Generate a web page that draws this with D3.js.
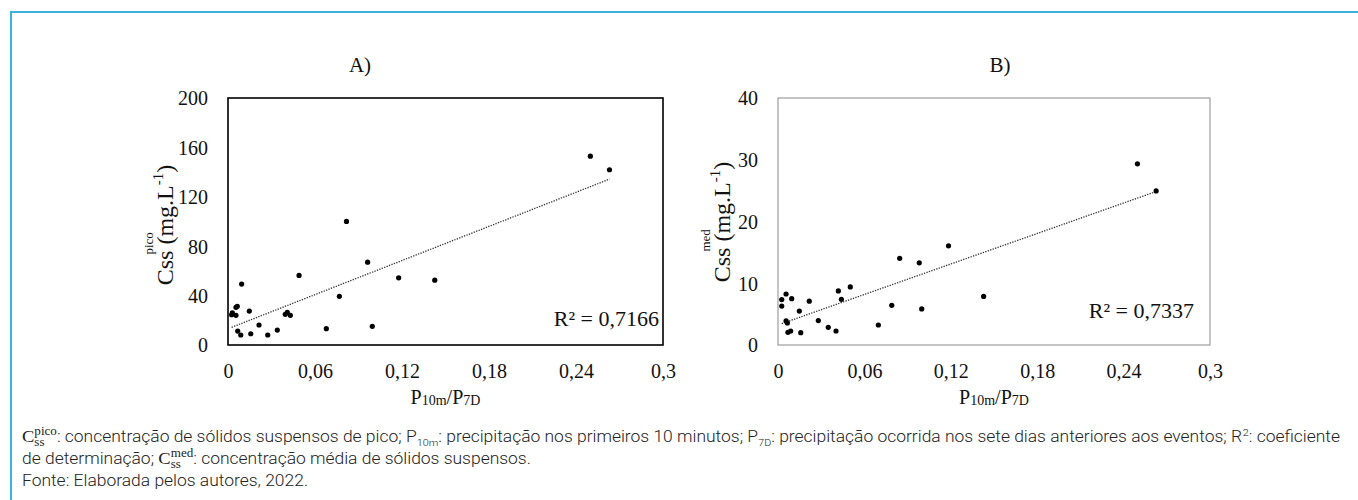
<!DOCTYPE html>
<html><head><meta charset="utf-8">
<script src="https://cdn.jsdelivr.net/npm/d3@7"></script>
<style>body{margin:0;background:#fff}svg{display:block}text{white-space:pre}</style>
</head><body>
<svg id="c" width="1358" height="500"></svg>
<script>
// ---------------- data ----------------
const xTicks = [0, 0.06, 0.12, 0.18, 0.24, 0.3];
const xTickLabels = ["0", "0,06", "0,12", "0,18", "0,24", "0,3"];
const yTicksA = [0, 40, 80, 120, 160, 200];
const yTicksB = [0, 10, 20, 30, 40];
const panelTitles = ["A)", "B)"];
const r2Labels = ["R² = 0,7166", "R² = 0,7337"];
const yTitleSup = ["pico", "med"];

// Panel A: P10m/P7D vs Css pico (mg/L)
const xA = [0.0030,0.0025,0.0055,0.0064,0.0055,0.0094,0.0147,0.0067,0.0088,0.0157,0.0214,0.0274,0.0340,0.0395,0.0409,0.0430,0.0490,0.0678,0.0768,0.0817,0.0963,0.0995,0.1177,0.1426,0.2499,0.2631];
const yA = [26.1,24.5,30.5,31.3,24.0,49.3,27.5,11.3,8.1,9.1,16.2,8.1,12.1,24.8,26.4,24.0,56.3,13.2,39.4,100.1,67.1,15.1,54.4,52.5,152.9,141.9];
// Panel B: P10m/P7D vs Css med (mg/L)
const xB = [0.0026,0.0026,0.0056,0.0095,0.0217,0.0148,0.0056,0.0065,0.0069,0.0088,0.0158,0.0280,0.0349,0.0403,0.0419,0.0440,0.0502,0.0697,0.0790,0.0845,0.0981,0.0998,0.1184,0.1428,0.2496,0.2626];
const yB = [7.35,6.3,8.26,7.5,7.1,5.5,3.9,3.56,2.06,2.27,2.0,3.95,2.87,2.27,8.75,7.4,9.4,3.24,6.43,14.04,13.3,5.84,16.06,7.87,29.34,24.95];

const captionLines = [
  [{k:"stack", c:"C", sup:"pico", sub:"ss"}, {k:"n", t:": concentração de sólidos suspensos de pico; P"}, {k:"sub", t:"10m"},
   {k:"n", t:": precipitação nos primeiros 10 minutos; P"}, {k:"sub", t:"7D"},
   {k:"n", t:": precipitação ocorrida nos sete dias anteriores aos eventos; R"}, {k:"sup", t:"2"}, {k:"n", t:": coeficiente"}],
  [{k:"n", t:"de determinação; "}, {k:"stack", c:"C", sup:"med", sub:"ss"}, {k:"n", t:": concentração média de sólidos suspensos."}],
  [{k:"n", t:"Fonte: Elaborada pelos autores, 2022."}]
];

// ---------------- drawing ----------------
const svg = d3.select("#c");
const SERIF = "'Liberation Serif','Times New Roman',serif";
const SANS = "Roboto,'Liberation Sans',sans-serif";
const SANS_W = 300;

function measure(str, size, family, weight) {
  const t = svg.append("text").attr("font-size", size).attr("font-family", family)
    .attr("font-weight", weight || 400).text(str);
  const w = t.node().getComputedTextLength();
  t.remove();
  return w;
}

// blue frame
svg.append("line").attr("x1", 10).attr("x2", 1358).attr("y1", 12).attr("y2", 12)
  .attr("stroke", "#3db2df").attr("stroke-width", 2);
svg.append("line").attr("x1", 11).attr("x2", 11).attr("y1", 11).attr("y2", 500)
  .attr("stroke", "#3db2df").attr("stroke-width", 2);

function regression(xs, ys) {
  const mx = d3.mean(xs), my = d3.mean(ys);
  let sxy = 0, sxx = 0;
  xs.forEach((x, i) => { sxy += (x - mx) * (ys[i] - my); sxx += (x - mx) * (x - mx); });
  const b = sxy / sxx;
  return {b, a: my - b * mx};
}

function drawPanel(p) {
  const g = svg.append("g");
  const x = d3.scaleLinear().domain([0, 0.3]).range([p.left, p.right]);
  const y = d3.scaleLinear().domain([0, p.yMax]).range([p.bottom, p.top]);

  const xa = g.append("g").attr("transform", `translate(0,${p.bottom})`)
    .call(d3.axisBottom(x).tickValues(xTicks).tickFormat((d, i) => xTickLabels[i]).tickSize(0).tickPadding(0));
  xa.select(".domain").remove();
  xa.selectAll("text").attr("font-family", SERIF).attr("font-size", 20).attr("fill", "#111")
    .attr("dy", null).attr("y", 33);

  const ya = g.append("g").attr("transform", `translate(${p.left},0)`)
    .call(d3.axisLeft(y).tickValues(p.yTicks).tickSize(0).tickPadding(20));
  ya.select(".domain").remove();
  ya.selectAll("text").attr("font-family", SERIF).attr("font-size", 20).attr("fill", "#111").attr("dy", "0.34em");

  g.append("rect").attr("x", p.left).attr("y", p.top)
    .attr("width", p.right - p.left).attr("height", p.bottom - p.top)
    .attr("fill", "none").attr("stroke", p.frameColor).attr("stroke-width", p.frameWidth);

  const reg = regression(p.xs, p.ys);
  const x0 = d3.min(p.xs), x1 = d3.max(p.xs);
  g.append("line").attr("x1", x(x0)).attr("y1", y(reg.a + reg.b * x0))
    .attr("x2", x(x1)).attr("y2", y(reg.a + reg.b * x1))
    .attr("stroke", "#333").attr("stroke-width", 1.3).attr("stroke-dasharray", "1.3,1.3");

  g.selectAll("circle").data(p.xs).join("circle")
    .attr("cx", d => x(d)).attr("cy", (d, i) => y(p.ys[i])).attr("r", 2.6).attr("fill", "#000");

  g.append("text").attr("x", p.r2x).attr("y", p.r2y).attr("text-anchor", "end")
    .attr("font-family", SERIF).attr("font-size", 22).attr("fill", "#111").text(p.r2);

  g.append("text").attr("x", p.titleX).attr("y", 72).attr("text-anchor", "middle")
    .attr("font-family", SERIF).attr("font-size", 21).attr("fill", "#111").text(p.title);

  const xt = g.append("text").attr("x", (p.left + p.right) / 2).attr("y", 404).attr("text-anchor", "middle")
    .attr("font-family", SERIF).attr("font-size", 20).attr("fill", "#111");
  xt.append("tspan").text("P");
  xt.append("tspan").attr("font-size", 14).attr("dy", 1).text("10m");
  xt.append("tspan").attr("dy", -1).text("/P");
  xt.append("tspan").attr("font-size", 14).attr("dy", 1).text("7D");

  const fs = 24;
  const wCss = measure("Css", fs, SERIF);
  const wRest = measure(" (mg.L", fs, SERIF) + measure("-1", 15, SERIF) + measure(")", fs, SERIF);
  const W = wCss + wRest;
  const yg = g.append("g").attr("transform", `translate(${p.ytX},${p.ytY}) rotate(-90)`);
  const yt = yg.append("text").attr("x", -W / 2).attr("y", 0)
    .attr("font-family", SERIF).attr("font-size", fs).attr("fill", "#111");
  yt.append("tspan").text("Css (mg.L");
  yt.append("tspan").attr("font-size", 15).attr("dy", -10).text("-1");
  yt.append("tspan").attr("dy", 10).text(")");
  yg.append("text").attr("x", -W / 2 + wCss - 4).attr("y", -20)
    .attr("font-family", SERIF).attr("font-size", 13).attr("fill", "#111").text(p.sup);
}

drawPanel({left: 228, right: 663, top: 98, bottom: 345, yMax: 200, yTicks: yTicksA,
  xs: xA, ys: yA, frameColor: "#000", frameWidth: 1.6, r2: r2Labels[0], r2x: 659, r2y: 326,
  title: panelTitles[0], titleX: 360, ytX: 173, ytY: 225, sup: yTitleSup[0]});
drawPanel({left: 778, right: 1210, top: 98, bottom: 345, yMax: 40, yTicks: yTicksB,
  xs: xB, ys: yB, frameColor: "#8a8a8a", frameWidth: 1, r2: r2Labels[1], r2x: 1194, r2y: 318,
  title: panelTitles[1], titleX: 1000, ytX: 730, ytY: 222, sup: yTitleSup[1]});

// ---------------- caption ----------------
const capSize = 16;
const capBase = [442, 464, 486];
const capColor = "#222";
function drawLine(segs, baseY, g) {
  let cx = 0;
  segs.forEach(s => {
    if (s.k === "n") {
      g.append("text").attr("x", cx).attr("y", baseY).attr("font-family", SANS).attr("font-weight", SANS_W)
        .attr("font-size", capSize).attr("fill", capColor).text(s.t);
      cx += measure(s.t, capSize, SANS, SANS_W);
    } else if (s.k === "sub") {
      g.append("text").attr("x", cx).attr("y", baseY + 4).attr("font-family", SANS).attr("font-weight", SANS_W)
        .attr("font-size", capSize * 0.62).attr("fill", capColor).text(s.t);
      cx += measure(s.t, capSize * 0.62, SANS, SANS_W);
    } else if (s.k === "sup") {
      g.append("text").attr("x", cx + 0.5).attr("y", baseY - 6).attr("font-family", SANS).attr("font-weight", SANS_W)
        .attr("font-size", capSize * 0.62).attr("fill", capColor).text(s.t);
      cx += measure(s.t, capSize * 0.62, SANS, SANS_W) + 0.5;
    } else if (s.k === "stack") {
      g.append("text").attr("x", cx).attr("y", baseY).attr("font-family", SERIF).attr("font-size", capSize + 1)
        .attr("fill", capColor).text(s.c);
      cx += measure(s.c, capSize + 1, SERIF);
      g.append("text").attr("x", cx).attr("y", baseY - 7).attr("font-family", SERIF).attr("font-size", 12)
        .attr("fill", capColor).text(s.sup);
      g.append("text").attr("x", cx).attr("y", baseY + 4).attr("font-family", SERIF).attr("font-size", 12)
        .attr("fill", capColor).text(s.sub);
      cx += Math.max(measure(s.sup, 12, SERIF), measure(s.sub, 12, SERIF));
    }
  });
  return cx;
}
const capGroups = captionLines.map((segs, i) => {
  const g = svg.append("g");
  const w = drawLine(segs, 0, g);
  return {g, w, i};
});
const kx = 1318 / capGroups[0].w;
capGroups.forEach(c => c.g.attr("transform", `translate(22,${capBase[c.i]}) scale(${kx},1)`));
</script>
</body></html>
